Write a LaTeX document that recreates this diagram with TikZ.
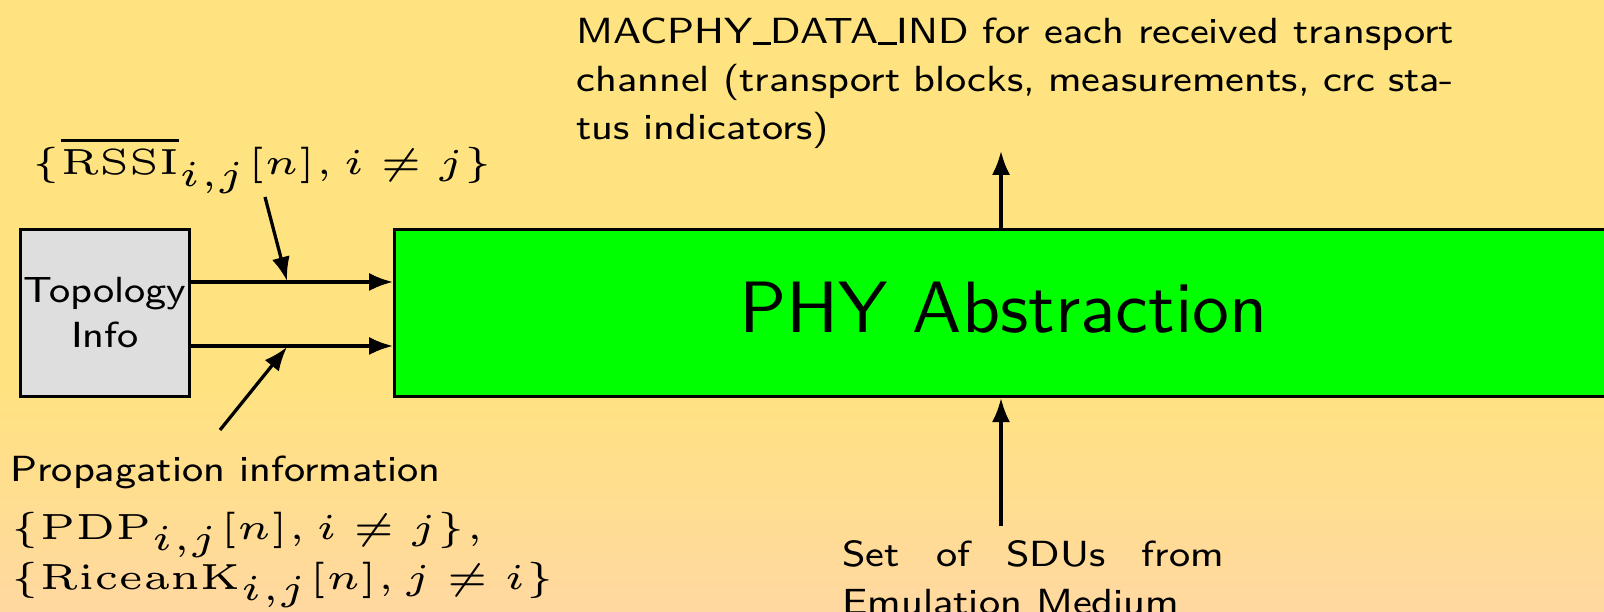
\documentclass[tikz,border=0pt]{standalone}
\usepackage{graphicx}
\usetikzlibrary{arrows.meta}
\definecolor{bgtop}{RGB}{255,227,128}
\definecolor{bgbot}{RGB}{255,216,160}
\definecolor{phygreen}{RGB}{0,255,0}
\definecolor{topogray}{RGB}{222,222,222}
\newcommand{\hs}[1]{\scalebox{1.095}[1]{#1}}
\newcommand{\us}{\rule[-0.25pt]{2.3pt}{0.42pt}}
\tikzset{
  arr/.style={-{Latex[length=3.3pt,width=2.5pt]}, line width=0.45pt},
  boxstyle/.style={draw, line width=0.45pt, inner sep=0pt},
  smalltext/.style={inner sep=0pt, font=\fontsize{5}{6.6}\selectfont\sffamily},
  mathtext/.style={inner sep=0pt, font=\fontsize{5}{6.6}\selectfont},
}
\begin{document}
\begin{tikzpicture}[x=0.1375pt, y=-0.1375pt]
\useasboundingbox (0,0) rectangle (1604,612);
\clip (0,0) rectangle (1604,612);
\fill[bgtop] (0,0) rectangle (1604,381);
\shade[top color=bgtop, bottom color=bgbot] (0,380) rectangle (1604,612);

% boxes
\node[boxstyle, fill=topogray, minimum width=23.24pt, minimum height=22.96pt,
      align=center, font=\fontsize{5}{6.19}\selectfont\sffamily] (topo) at (105,313) {\hs{Topology}\\\hs{Info}};
\node[boxstyle, fill=phygreen, minimum width=167.5pt, minimum height=22.96pt,
      font=\fontsize{10}{12}\selectfont\sffamily, text height=6.9pt, text depth=1.65pt] (phy) at (1003.75,313) {\scalebox{1.015}[1]{PHY Abstraction}};

% horizontal arrows
\draw[arr] (topo.east |- 0,282) -- (phy.west |- 0,282);
\draw[arr] (topo.east |- 0,346) -- (phy.west |- 0,346);

% labels
\node[mathtext, anchor=base west] (rssi) at (30,175) {\hs{$\{\overline{\mathrm{RSSI}}_{i,j}[n], i \neq j\}$}};
\node[smalltext, anchor=north west, align=left, font=\fontsize{5}{6.875}\selectfont\sffamily] (prop) at (9,454)
  {\hs{Propagation information}\\[1.1pt]
   \hs{$\{\mathrm{PDP}_{i,j}[n], i \neq j\},$}\\
   \hs{$\{\mathrm{RiceanK}_{i,j}[n], j \neq i\}$}};
\node[smalltext, anchor=north west] (mac) at (575,16)
  {\hs{\parbox[t]{110.2pt}{MACPHY\us DATA\us IND for each received transport\linebreak channel (transport blocks, measurements, crc sta-\linebreak tus indicators)}}};
\node[smalltext, anchor=north west] (sdu) at (841,539)
  {\hs{\parbox[t]{47.9pt}{Set of SDUs from\linebreak Emulation Medium}}};

% diagonal arrows
\coordinate (r0) at (265,197);
\coordinate (r1) at (287,281);
\coordinate (p0) at (220,430);
\coordinate (p1) at (287,347);
\draw[arr] (r0) -- (r1);
\draw[arr] (p0) -- (p1);

% vertical arrows
\coordinate (up) at (1001,151);
\coordinate (dn) at (1001,526);
\draw[arr] (phy.north -| up) -- (up);
\draw[arr] (dn) -- (phy.south -| dn);
\end{tikzpicture}
\end{document}
